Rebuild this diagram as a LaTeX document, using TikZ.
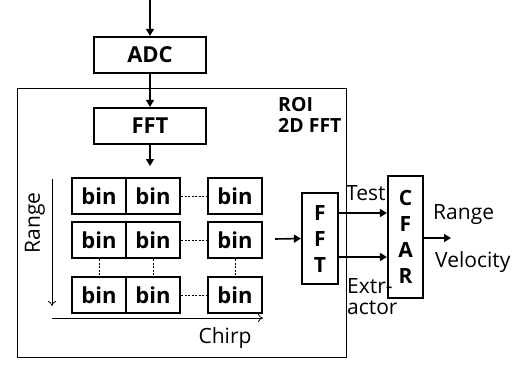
\documentclass[tikz,border=0pt]{standalone}
\usepackage{fontspec}
\setmainfont{Open Sans}
\usetikzlibrary{arrows.meta}
\begin{document}
\begin{tikzpicture}[x=1pt,y=-1pt,
  blk/.style={draw,line width=2.2pt,minimum width=112pt,minimum height=36pt,inner sep=0pt,font=\fontsize{22}{24}\selectfont\bfseries},
  bin/.style={draw,line width=2pt,minimum width=54pt,minimum height=36pt,inner sep=0pt,font=\fontsize{22}{24}\selectfont\bfseries},
  tall/.style={draw,line width=2.2pt,inner sep=0pt,font=\fontsize{21}{26}\selectfont\bfseries,align=center},
  arr/.style={line width=1.6pt,-{Triangle[length=7pt,width=8pt]}},
  thinarr/.style={line width=0.8pt,-{To[length=5pt,width=8pt]}},
  dsh/.style={line width=0.6pt,dash pattern=on 2pt off 1.5pt},
  lbl/.style={font=\fontsize{21}{24}\selectfont,inner sep=0pt},
  blbl/.style={font=\fontsize{19.5}{22}\selectfont\bfseries,inner sep=0pt}]
\useasboundingbox (0,0) rectangle (513,368);
\draw[line width=0.8pt] (17,88) rectangle (346,357);
\coordinate (in) at (150,0);
\node[blk] (adc) at (150,55) {ADC};
\node[blk] (fft) at (150,126) {FFT};
\coordinate (fftout) at (150,166);
\draw[arr] (in) -- (adc.north);
\draw[arr] (adc) -- (fft);
\draw[arr] (fft) -- (fftout);
\node[blbl,anchor=west] (roi) at (278,105) {ROI};
\node[blbl,anchor=west] (roi2) at (278,125) {2D FFT};
% bins
\node[bin] (b11) at (99,196) {bin};
\node[bin] (b12) at (153,196) {bin};
\node[bin] (b13) at (235,196) {bin};
\node[bin] (b21) at (99,240) {bin};
\node[bin] (b22) at (153,240) {bin};
\node[bin] (b23) at (235,240) {bin};
\node[bin] (b31) at (99,295) {bin};
\node[bin] (b32) at (153,295) {bin};
\node[bin] (b33) at (235,295) {bin};
\draw[dsh] (b12.east) -- (b13.west);
\draw[dsh] (b22.east) -- (b23.west);
\draw[dsh] (b32.east) -- (b33.west);
\draw[dsh] (b21.south) -- (b31.north);
\draw[dsh] (b22.south) -- (b32.north);
\draw[dsh] (b23.south) -- (b33.north);
\coordinate (r0) at (52,179);
\coordinate (r1) at (52,306);
\draw[thinarr] (r0) -- (r1);
\node[lbl,rotate=90] (range) at (35,223) {Range};
\coordinate (c0) at (52,318);
\coordinate (c1) at (263,318);
\draw[thinarr] (c0) -- (c1);
\node[lbl] (chirp) at (225,338) {Chirp};
% right part
\node[tall,minimum width=36pt,minimum height=91pt] (fft2) at (320,238.5) {F\\F\\T};
\node[tall,minimum width=35pt,minimum height=122pt] (cfar) at (405.5,237) {C\\F\\A\\R};
\coordinate (fin) at (275,239);
\draw[arr] (fin) -- (fft2.west);
\draw[arr] (fft2.east |- 0,213) -- (cfar.west |- 0,213);
\draw[arr] (fft2.east |- 0,257) -- (cfar.west |- 0,257);
\coordinate (out) at (451,238);
\draw[arr] (cfar.east |- out) -- (out);
\node[lbl,anchor=west] (test) at (346,193) {Test};
\node[lbl,anchor=west] (ex1) at (347,286) {Extr-};
\node[lbl,anchor=west] (ex2) at (347,308) {actor};
\node[lbl,anchor=west] (rng) at (433,215) {Range};
\node[lbl,anchor=west] (vel) at (435,262) {Velocity};
\end{tikzpicture}
\end{document}
